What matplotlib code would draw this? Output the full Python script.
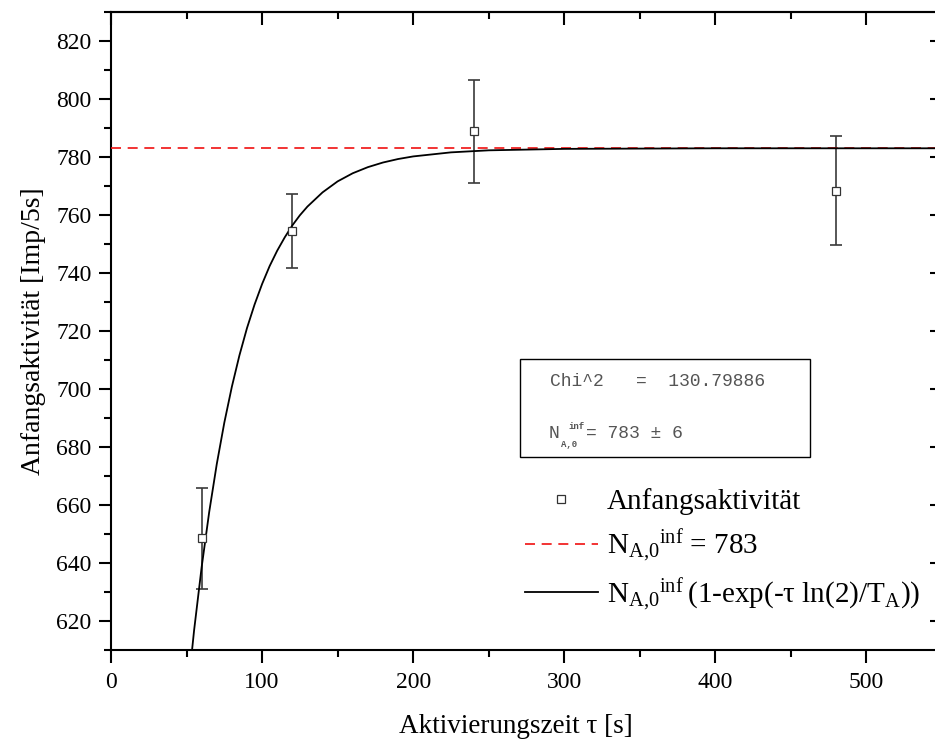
import numpy as np
import matplotlib
matplotlib.use('Agg')
import matplotlib.pyplot as plt
from matplotlib.lines import Line2D
from matplotlib.patches import Rectangle
from matplotlib.ticker import MultipleLocator

tau = [60, 120, 240, 480]
aktivitaet = [648.5, 754.6, 788.8, 768.4]
fehler = [17.5, 12.8, 17.7, 18.8]

# Sättigungswert
n_inf = 783

fit_tau = [50, 55, 60, 65, 70, 75, 80, 85, 90, 95, 100, 105, 110, 115, 120, 125,
           130, 140, 150, 160, 170, 180, 190, 200, 225, 250, 300, 400, 550]
fit_n = [591.6, 616.8, 638.6, 657.6, 674.1, 688.4, 700.8, 711.6, 721.0, 729.1,
         736.2, 742.4, 747.7, 752.3, 756.4, 759.9, 762.9, 767.8, 771.6, 774.4,
         776.5, 778.1, 779.3, 780.2, 781.6, 782.3, 782.8, 783.0, 783.0]

plt.rcParams['font.family'] = 'Liberation Serif'
plt.rcParams['mathtext.fontset'] = 'custom'
plt.rcParams['mathtext.rm'] = 'Liberation Serif'
plt.rcParams['mathtext.tt'] = 'Liberation Mono'

fig = plt.figure(figsize=(9.35, 7.45), dpi=100)
ax = fig.add_axes([111 / 935, 95 / 745, 831 / 935, 638 / 745])

# Fehlerbalken und Punkte
ax.errorbar(tau, aktivitaet, yerr=fehler, fmt='none', ecolor='#3a3a3a',
            elinewidth=1.2, capsize=4.5, capthick=1.2, zorder=2)
ax.plot(tau, aktivitaet, 's', ms=5.5, mfc='white', mec='#333333', mew=0.9, zorder=4)

# Sättigungslinie und Fit
ax.axhline(n_inf, color='#f01010', ls=(0, (6, 4)), lw=1.2, zorder=3)
ax.plot(fit_tau, fit_n, color='black', lw=1.3, zorder=3)

ax.set_xlim(0, 550)
ax.set_ylim(610, 830)

ax.xaxis.set_major_locator(MultipleLocator(100))
ax.xaxis.set_minor_locator(MultipleLocator(50))
ax.yaxis.set_major_locator(MultipleLocator(20))
ax.yaxis.set_minor_locator(MultipleLocator(10))

ax.tick_params(which='major', direction='out', length=9, width=1.5, labelsize=17)
ax.tick_params(axis='x', which='major', pad=7)
ax.tick_params(axis='y', which='major', pad=5)
ax.tick_params(which='minor', direction='out', length=5, width=1.5)
for s in ax.spines.values():
    s.set_linewidth(1.5)

# Achsen oben und rechts mit Ticks nach innen
sec_x = ax.secondary_xaxis('top')
sec_x.xaxis.set_major_locator(MultipleLocator(100))
sec_x.xaxis.set_minor_locator(MultipleLocator(50))
sec_x.tick_params(which='major', direction='in', length=9, width=1.5, labeltop=False)
sec_x.tick_params(which='minor', direction='in', length=5, width=1.5)
sec_x.spines['top'].set_linewidth(1.5)

sec_y = ax.secondary_yaxis('right')
sec_y.yaxis.set_major_locator(MultipleLocator(20))
sec_y.yaxis.set_minor_locator(MultipleLocator(10))
sec_y.tick_params(which='major', direction='in', length=9, width=1.5, labelright=False)
sec_y.tick_params(which='minor', direction='in', length=5, width=1.5)
sec_y.spines['right'].set_linewidth(1.5)

ax.set_xlabel('Aktivierungszeit τ [s]', fontsize=19.5)
ax.xaxis.set_label_coords(405 / 831, -64 / 638)
ax.set_ylabel('Anfangsaktivität [Imp/5s]', fontsize=20, labelpad=7)

# Ergebnis-Box
fig.patches.append(Rectangle((520 / 935, 1 - 457 / 745), 290 / 935, 98 / 745,
                             transform=fig.transFigure, fill=False,
                             edgecolor='black', lw=1.0, zorder=5))
grau = '#555555'
fig.text(550 / 935, 1 - 382 / 745, 'Chi^2   =  130.79886', family='Liberation Mono',
         fontsize=13, color=grau, va='center')
fig.text(549 / 935, 1 - 438 / 745, 'N', family='Liberation Mono',
         fontsize=13, color=grau, va='baseline')
fig.text(561 / 935, 1 - 447 / 745, 'A,0', family='Liberation Mono',
         fontsize=6.5, color=grau, va='baseline', weight='bold')
fig.text(568 / 935, 1 - 429 / 745, 'inf', family='Liberation Mono',
         fontsize=6.5, color=grau, va='baseline', weight='bold')
fig.text(586 / 935, 1 - 438 / 745, '= 783 ± 6', family='Liberation Mono',
         fontsize=13, color=grau, va='baseline')

# Legende
handles = [
    Line2D([], [], ls='none', marker='s', ms=5.5, mfc='white', mec='#333333', mew=0.9),
    Line2D([], [], color='#f01010', ls=(0, (6, 4)), lw=1.2),
    Line2D([], [], color='black', lw=1.3),
]
labels = [
    'Anfangsaktivität',
    r'$\mathrm{N_{A{,}0}{}^{inf}}$ = 783',
    r'$\mathrm{N_{A{,}0}{}^{inf}}\,$(1-exp(-τ ln(2)/T$_\mathrm{A}$))',
]
ax.legend(handles, labels, frameon=False, fontsize=21, loc='upper left',
          bbox_to_anchor=(525 / 935, 1 - 488 / 745), bbox_transform=fig.transFigure,
          borderpad=0, borderaxespad=0, handlelength=2.5, handletextpad=0.3,
          labelspacing=0.42)

fig.savefig('out.png', dpi=100)
